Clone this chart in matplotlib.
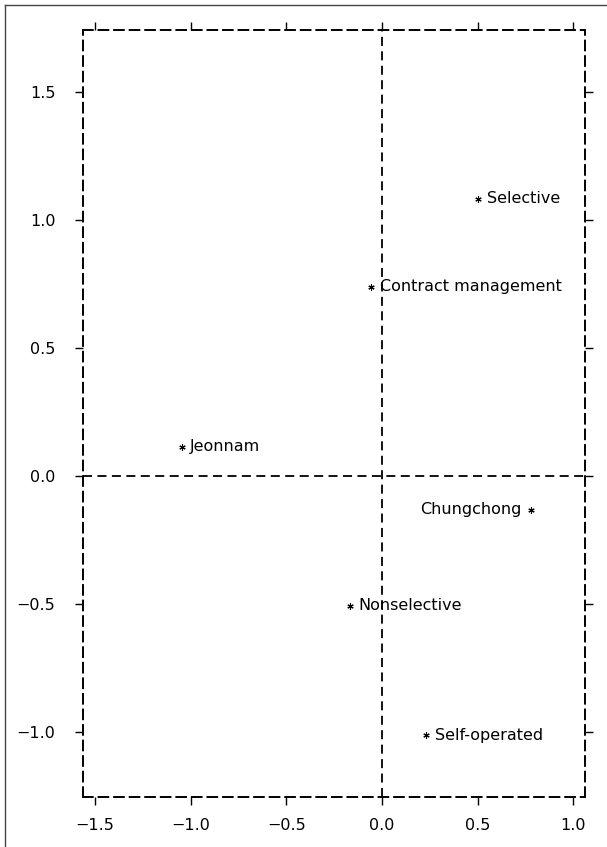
import numpy as np
import matplotlib
matplotlib.use('Agg')
import matplotlib.pyplot as plt
from matplotlib.lines import Line2D
from matplotlib.ticker import FuncFormatter

# Points
labels = ['Selective', 'Contract management', 'Jeonnam', 'Chungchong', 'Nonselective', 'Self-operated']
xs = [0.504, -0.056, -1.046, 0.782, -0.166, 0.232]
ys = [1.082, 0.738, 0.113, -0.133, -0.508, -1.012]
# label to the left of the marker for these
left_side = ['Chungchong']

xticks = [-1.5, -1.0, -0.5, 0.0, 0.5, 1.0]
yticks = [-1.0, -0.5, 0.0, 0.5, 1.0, 1.5]

plt.rcParams['font.family'] = 'DejaVu Sans'
plt.rcParams['font.size'] = 11.5

fig = plt.figure(figsize=(6.07, 8.47), dpi=100)
ax = fig.add_axes([0.137, 0.059, 0.827, 0.906])

ax.set_xlim(-1.563, 1.063)
ax.set_ylim(-1.254, 1.742)

dash = (0, (5, 3))
for s in ax.spines.values():
    s.set_linestyle(dash)
    s.set_linewidth(1.4)

ax.axhline(0, color='black', lw=1.3, linestyle=dash)
ax.axvline(0, color='black', lw=1.3, linestyle=dash)

ax.plot(xs, ys, linestyle='none', marker=(6, 2, 0), markersize=4.5,
        color='black', markeredgewidth=0.8)

for lab, x, y in zip(labels, xs, ys):
    if lab in left_side:
        ax.annotate(lab, (x, y), textcoords='offset points', xytext=(-7, 0),
                    ha='right', va='center', fontsize=11.5)
    else:
        ax.annotate(lab, (x, y), textcoords='offset points', xytext=(6, 0),
                    ha='left', va='center', fontsize=11.5)

fmt = FuncFormatter(lambda v, p: ('%.1f' % v).replace('-', '\u2212'))
ax.set_xticks(xticks)
ax.set_yticks(yticks)
ax.xaxis.set_major_formatter(fmt)
ax.yaxis.set_major_formatter(fmt)
ax.tick_params(direction='out', length=6, width=1, top=True, right=True,
               labeltop=False, labelright=False)
ax.tick_params(axis='y', pad=14)
ax.tick_params(axis='x', pad=9)

# scan border lines along the top and left edge
fig.add_artist(Line2D([0.008, 0.008], [0.0, 0.994], color='#444444', lw=1.0))
fig.add_artist(Line2D([0.008, 1.0], [0.994, 0.994], color='#444444', lw=1.0))

plt.savefig('out.png', dpi=100)
